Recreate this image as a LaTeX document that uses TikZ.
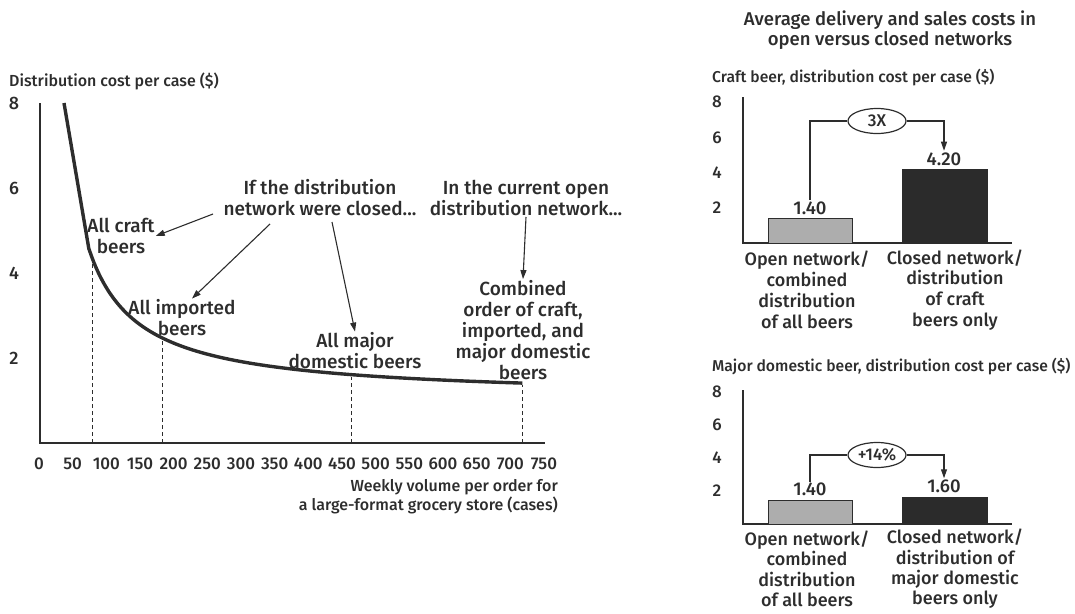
\documentclass[tikz,border=0pt]{standalone}
\usepackage{fontspec}
\setmainfont{Fira Sans Medium}
\usetikzlibrary{arrows.meta,shapes.geometric}
\definecolor{ink}{HTML}{2D2D2D}
\definecolor{barlight}{HTML}{ADADAD}
\definecolor{bardark}{HTML}{2B2B2B}
\tikzset{
  note/.style={text=ink, inner sep=1pt, align=center, font=\fontsize{19}{21}\selectfont},
  caption/.style={text=ink, inner sep=0pt, align=left, font=\fontsize{16}{19}\selectfont},
  ticklab/.style={text=ink, inner sep=0pt, font=\fontsize{18}{20}\selectfont},
  xticklab/.style={text=ink, inner sep=0pt, font=\fontsize{17}{19}\selectfont},
  barlab/.style={text=ink, inner sep=1pt, align=center, font=\fontsize{18}{20.8}\selectfont},
  vallab/.style={text=ink, inner sep=1.5pt, font=\fontsize{18.5}{20}\selectfont},
  axisline/.style={draw=ink, line width=1.6pt},
  guide/.style={draw=ink, line width=1.1pt, dash pattern=on 4pt off 3pt},
  costcurve/.style={draw=ink, line width=3.4pt, line join=round},
  arr/.style={draw=ink, line width=1.1pt, -{Triangle[length=9pt,width=6pt]}},
  bracket/.style={draw=ink, line width=1.1pt},
  ratio/.style={ellipse, draw=ink, line width=1.2pt, minimum width=58pt, minimum height=25pt,
    inner sep=0pt, text=ink, font=\fontsize{17}{19}\selectfont},
  lightbar/.style={fill=barlight, draw=ink, line width=0.9pt},
  darkbar/.style={fill=bardark, draw=bardark, line width=0.9pt},
}
\begin{document}
\begin{tikzpicture}[x=1pt,y=-1pt]
\useasboundingbox (0,0) rectangle (1075,613);

% ---------------- cost curve chart ----------------
\node[caption, anchor=west] (ytitle) at (9,81) {Distribution cost per case (\$)};
\draw[axisline] (40,103) -- (40,443) -- (545,443);
\foreach \v in {2,4,6,8}
  \node[ticklab] (yl\v) at (14,{443-42.5*\v}) {\v};
\foreach \c in {0,50,...,750}
  \node[xticklab] (xl\c) at ({39+0.6733*\c},464) {\c};
\node[caption, anchor=east, align=right] (xtitle) at (558,497)
  {Weekly volume per order for\\a large-format grocery store (cases)};

% steep straight start, then cost per case falls as 1.046 + 261/volume
\draw[costcurve] (64,103) -- plot[domain=74:718, samples=90, smooth]
  ({39+0.6733*\x},{443-42.5*(1.046+261/\x)});

\foreach \c/\n in {79/ga,184/gb,464/gc,718/gd}{
  \coordinate (\n b) at ({39+0.6733*\c},443);
  \coordinate (\n t) at ({39+0.6733*\c},{443-42.5*(1.046+261/\c)+2});
  \draw[guide] (\n b) -- (\n t);
}

\node[note] (craft) at (121,236) {All craft\\beers};
\node[note] (imported) at (182,318) {All imported\\beers};
\node[note] (major) at (355,351) {All major\\domestic beers};
\node[note] (combined) at (523,330) {Combined\\order of craft,\\imported, and\\major domestic\\beers};
\node[note] (closed) at (320,198) {If the distribution\\network were closed...};
\node[note] (current) at (526,198) {In the current open\\distribution network...};

\coordinate (tc) at (213,214);
\coordinate (ti) at (270,224);
\coordinate (tm) at (332,222);
\draw[arr] (tc) -- (craft.east);
\draw[arr] (ti) -- ([xshift=10pt]imported.north);
\draw[arr] (tm) -- (major.north);
\draw[arr] (current.south) -- (combined.north);

% ---------------- bar charts ----------------
\node[note, font=\fontsize{18.5}{20}\selectfont] (btitle) at (890,30)
  {Average delivery and sales costs in\\open versus closed networks};

% craft beer
\node[caption, anchor=west, font=\fontsize{15.7}{18}\selectfont] (ctitle) at (712,78)
  {Craft beer, distribution cost per case (\$)};
\draw[axisline] (743,97) -- (743,243) -- (1012,243);
\foreach \v in {2,4,6,8}
  \node[ticklab, font=\fontsize{17}{19}\selectfont] (cy\v) at (717,{243-17.6*\v}) {\v};
\draw[lightbar] (768,243) rectangle (852,{243-17.6*1.4});
\draw[darkbar] (902,243) rectangle (987,{243-17.6*4.2});
\node[vallab, anchor=south] (c140) at (810,{243-17.6*1.4-2}) {1.40};
\node[vallab, anchor=south] (c420) at (944,{243-17.6*4.2-2}) {4.20};
\node[ratio] (c3x) at (877,121) {\makebox[0pt][c]{3X}};
\draw[bracket] (c140.north) |- (c3x.west);
\draw[arr] (c3x.east) -| (c420.north);
\node[barlab] (copen) at (807,290)
  {Open network/\\combined\\distribution\\of all beers};
\node[barlab] (cclosed) at (955,290)
  {Closed network/\\distribution\\of craft\\beers only};

% major domestic beer
\node[caption, anchor=west, font=\fontsize{15.7}{18}\selectfont] (dtitle) at (712,367)
  {Major domestic beer, distribution cost per case (\$)};
\draw[axisline] (743,390) -- (743,524) -- (1012,524);
\foreach \v in {2,4,6,8}
  \node[ticklab, font=\fontsize{17}{19}\selectfont] (dy\v) at (717,{524-16.5*\v}) {\v};
\draw[lightbar] (768,524) rectangle (852,{524-16.5*1.4});
\draw[darkbar] (902,524) rectangle (987,{524-16.5*1.6});
\node[vallab, anchor=south] (d140) at (810,{524-16.5*1.4-3}) {1.40};
\node[vallab, anchor=south] (d160) at (944,{524-16.5*1.6-3}) {1.60};
\node[ratio] (d14) at (877,455) {\makebox[0pt][c]{+14\%}};
\draw[bracket] (d140.north) |- (d14.west);
\draw[arr] (d14.east) -| (d160.north);
\node[barlab, font=\fontsize{18}{20.4}\selectfont] (dopen) at (807,569)
  {Open network/\\combined\\distribution\\of all beers};
\node[barlab, font=\fontsize{18}{20.4}\selectfont] (dclosed) at (955,569)
  {Closed network/\\distribution of\\major domestic\\beers only};
\end{tikzpicture}
\end{document}
